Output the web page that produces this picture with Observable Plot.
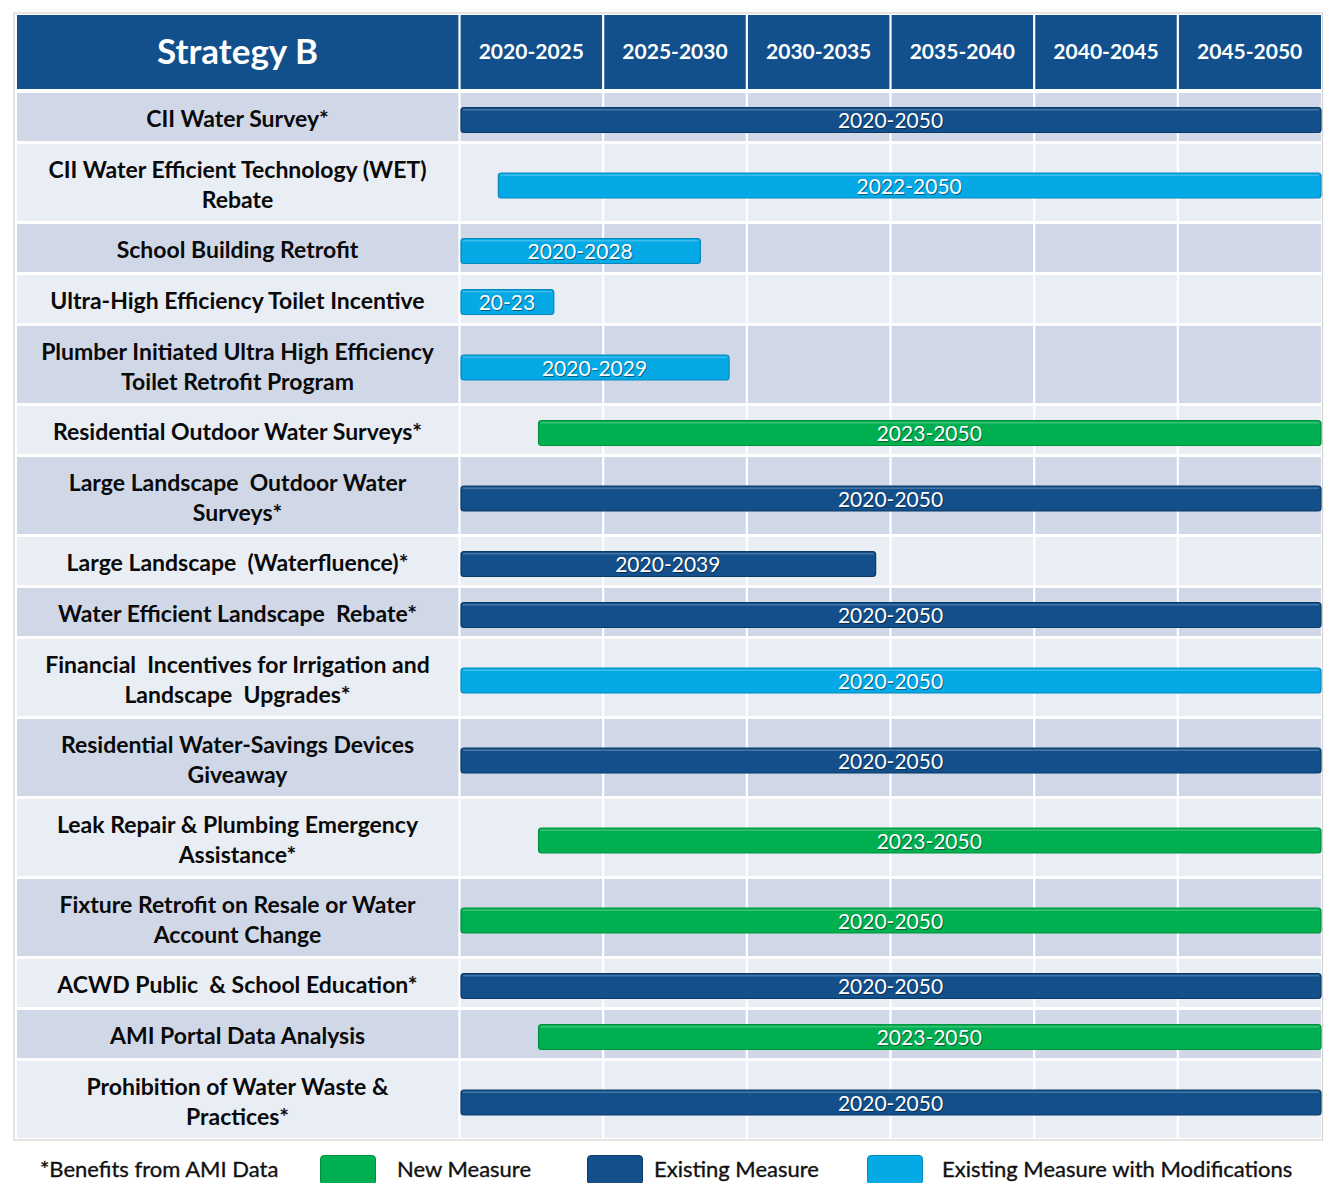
<!DOCTYPE html>
<html>
<head>
<meta charset="utf-8">
<script src="https://cdn.jsdelivr.net/npm/d3@7"></script>
<script src="https://cdn.jsdelivr.net/npm/@observablehq/plot@0.6"></script>
<style>
  html, body { margin: 0; padding: 0; background: #ffffff; }
  #wrap { position: relative; width: 1331px; height: 1183px; overflow: hidden; font-family: Lato, "Open Sans", sans-serif; }
  #chart svg { display: block; }
  #legend { position: relative; height: 38px; font-size: 22px; color: #111; }
  #legend .item { position: absolute; top: 10px; line-height: 28px; white-space: nowrap; -webkit-text-stroke: 0.35px #111; }
  #legend .sw { position: absolute; top: 10px; width: 56px; height: 30px; border-radius: 4px; box-sizing: border-box; }
</style>
</head>
<body>
<div id="wrap">
  <div id="chart"></div>
  <div id="legend"></div>
</div>
<script>
// ---------------- data ----------------
const title = "Strategy B";
const periods = ["2020-2025", "2025-2030", "2030-2035", "2035-2040", "2040-2045", "2045-2050"];
const periodStarts = [2020, 2025, 2030, 2035, 2040, 2045];
const measures = [
  "CII Water Survey*",
  "CII Water Efficient Technology (WET)\nRebate",
  "School Building Retrofit",
  "Ultra-High Efficiency Toilet Incentive",
  "Plumber Initiated Ultra High Efficiency\nToilet Retrofit Program",
  "Residential Outdoor Water Surveys*",
  "Large Landscape  Outdoor Water\nSurveys*",
  "Large Landscape  (Waterfluence)*",
  "Water Efficient Landscape  Rebate*",
  "Financial  Incentives for Irrigation and\nLandscape  Upgrades*",
  "Residential Water-Savings Devices\nGiveaway",
  "Leak Repair & Plumbing Emergency\nAssistance*",
  "Fixture Retrofit on Resale or Water\nAccount Change",
  "ACWD Public  & School Education*",
  "AMI Portal Data Analysis",
  "Prohibition of Water Waste &\nPractices*"
];
// bar extents as drawn in the picture (years)
const barStarts = [2020, 2021.3, 2020, 2020, 2020, 2022.7, 2020, 2020, 2020, 2020, 2020, 2022.7, 2020, 2020, 2022.7, 2020];
const barEnds   = [2050, 2050, 2028.4, 2023.3, 2029.4, 2050, 2050, 2034.5, 2050, 2050, 2050, 2050, 2050, 2050, 2050, 2050];
const barLabels = ["2020-2050", "2022-2050", "2020-2028", "20-23", "2020-2029", "2023-2050", "2020-2050", "2020-2039",
                   "2020-2050", "2020-2050", "2020-2050", "2023-2050", "2020-2050", "2020-2050", "2023-2050", "2020-2050"];
const measureTypes = ["Existing Measure", "Existing Measure with Modifications", "Existing Measure with Modifications",
  "Existing Measure with Modifications", "Existing Measure with Modifications", "New Measure", "Existing Measure",
  "Existing Measure", "Existing Measure", "Existing Measure with Modifications", "Existing Measure", "New Measure",
  "New Measure", "Existing Measure", "New Measure", "Existing Measure"];
const legendNote = "*Benefits from AMI Data";
const legendTypes = ["New Measure", "Existing Measure", "Existing Measure with Modifications"];

// ---------------- styles ----------------
const typeFill   = {"New Measure": "#00b050", "Existing Measure": "#13508b", "Existing Measure with Modifications": "#05a9e5"};
const typeStroke = {"New Measure": "#00913f", "Existing Measure": "#0b3a66", "Existing Measure with Modifications": "#0489bb"};
const headerFill = "#11508d";
const rowDark = "#d0d8e8", rowLight = "#e9edf4";
const FONT = "Lato, 'Open Sans', sans-serif";

// ---------------- layout (derived from label line counts) ----------------
const HEADER_H = 74, HEADER_GAP = 4, ROW_GAP = 3;
let cursor = HEADER_H + HEADER_GAP;
const rows = measures.map((name, i) => {
  const lines = name.split("\n").length;
  const h = lines === 1 ? 48 : 77;
  const r = {
    name, i,
    y1: cursor, y2: cursor + h, yc: cursor + h / 2,
    start: barStarts[i], end: barEnds[i], label: barLabels[i], type: measureTypes[i]
  };
  cursor += h + ROW_GAP;
  return r;
});
const yMax = cursor - ROW_GAP;
const BAR_H = 25, BAR_OFF = 3;
const labelColShift = -222;   // centre of label column relative to the grid's left edge
const labelColExtend = -442;  // label column width (inset beyond the frame)

const svgHeight = 1145;
const plot = Plot.plot({
  width: 1331,
  height: svgHeight,
  marginLeft: 459,
  marginRight: 10,
  marginTop: 15,
  marginBottom: svgHeight - 15 - yMax,
  x: {domain: [2020, 2050], axis: null},
  y: {domain: [0, yMax], reverse: true, axis: null},
  color: {type: "identity"},
  style: {background: "#ffffff", fontFamily: FONT},
  marks: [
    // outer frame line
    Plot.rect([0], {x1: 2020, x2: 2050, y1: 0, y2: yMax, fill: "none", stroke: "#d2d2d2", strokeWidth: 1.2,
      insetLeft: labelColExtend - 3, insetRight: -1.5, insetTop: -2, insetBottom: -2}),
    // header band
    Plot.rect([0], {x1: 2020, x2: 2050, y1: 0, y2: HEADER_H, fill: headerFill, insetLeft: labelColExtend}),
    // row bands
    Plot.rect(rows, {x1: 2020, x2: 2050, y1: "y1", y2: "y2", fill: d => d.i % 2 ? rowLight : rowDark, insetLeft: labelColExtend}),
    // white column separators
    Plot.ruleX(periodStarts, {x: d => d, y1: 0, y2: yMax, stroke: "#ffffff", strokeWidth: 2.2}),
    // header texts
    Plot.text([title], {frameAnchor: "left", textAnchor: "middle", dx: labelColShift, y: HEADER_H / 2, text: d => d, fill: "white",
      fontSize: 35, fontWeight: "bold", fontFamily: FONT}),
    Plot.text(periods, {x: (d, i) => periodStarts[i] + 2.5, y: HEADER_H / 2, text: d => d, fill: "white",
      fontSize: 21, fontWeight: "bold", fontFamily: FONT}),
    // measure labels
    Plot.text(rows, {frameAnchor: "left", textAnchor: "middle", dx: labelColShift, y: "yc", text: "name", fill: "#0a0a0a",
      fontSize: 23, fontWeight: "bold", lineHeight: 1.32, fontFamily: FONT}),
    // bars
    Plot.rect(rows, {x1: "start", x2: "end", y1: d => d.yc + BAR_OFF - BAR_H / 2, y2: d => d.yc + BAR_OFF + BAR_H / 2,
      fill: d => typeFill[d.type], stroke: d => typeStroke[d.type], strokeWidth: 1.2, rx: 3, insetLeft: 2}),
    // bar top highlight
    Plot.rect(rows, {x1: "start", x2: "end", y1: d => d.yc + BAR_OFF - BAR_H / 2 + 1.5, y2: d => d.yc + BAR_OFF - BAR_H / 2 + 3,
      fill: "#ffffff", fillOpacity: 0.22, insetLeft: 4, insetRight: 2}),
    // bar labels (shadow + text)
    Plot.text(rows, {x: d => (d.start + d.end) / 2, y: d => d.yc + BAR_OFF + 1, dx: 1, dy: 1, text: "label", fill: "#000",
      fillOpacity: 0.45, fontSize: 21, fontFamily: FONT}),
    Plot.text(rows, {x: d => (d.start + d.end) / 2, y: d => d.yc + BAR_OFF + 1, text: "label", fill: "#ffffff",
      fontSize: 21, fontFamily: FONT})
  ]
});
document.getElementById("chart").appendChild(plot);

// ---------------- legend (HTML below the SVG) ----------------
const legend = document.getElementById("legend");
const itemPos = [
  {text: legendNote, left: 40},
  {swatch: legendTypes[0], left: 320}, {text: legendTypes[0], left: 397},
  {swatch: legendTypes[1], left: 587}, {text: legendTypes[1], left: 654},
  {swatch: legendTypes[2], left: 867}, {text: legendTypes[2], left: 942}
];
for (const it of itemPos) {
  const el = document.createElement("div");
  if (it.swatch) {
    el.className = "sw";
    el.style.background = typeFill[it.swatch];
    el.style.border = "1.5px solid " + typeStroke[it.swatch];
  } else {
    el.className = "item";
    el.textContent = it.text;
  }
  el.style.left = it.left + "px";
  legend.appendChild(el);
}
</script>
</body>
</html>
